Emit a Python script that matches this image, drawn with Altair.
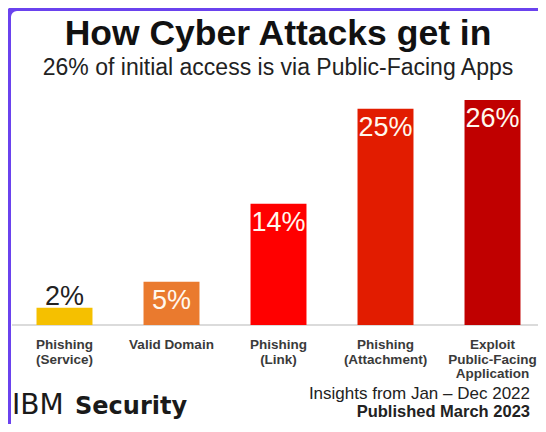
import altair as alt
import pandas as pd

# ---- data ----
categories = ["Phishing (Service)", "Valid Domain", "Phishing (Link)",
              "Phishing (Attachment)", "Exploit Public-Facing Application"]
label_lines = ["Phishing\n(Service)", "Valid Domain", "Phishing\n(Link)",
               "Phishing\n(Attachment)", "Exploit\nPublic-Facing\nApplication"]
values = [2, 5, 14, 25, 26]
bar_colors = ["#f5c000", "#ea7a2e", "#ff0000", "#e21c00", "#c00000"]

title = "How Cyber Attacks get in"
subtitle = "26% of initial access is via Public-Facing Apps"
foot_1 = "Insights from Jan \u2013 Dec 2022"
foot_2 = "Published March 2023"
brand_1 = "IBM"
brand_2 = "Security"

df = pd.DataFrame({
    "category": categories,
    "label": label_lines,
    "value": values,
    "pct": [f"{v}%" for v in values],
})

W, H = 530, 416
FONT = "Liberation Sans"

xs = alt.Scale(domain=categories, range=[3, 538], paddingInner=0.477, paddingOuter=0.2385)
ys = alt.Scale(domain=[0, 26], range=[317, 92], nice=False, zero=True)
cs = alt.Scale(domain=categories, range=bar_colors)

base = alt.Chart(df)

border = alt.Chart(pd.DataFrame({"a": [0]})).mark_rect(
    fill="transparent", stroke="#6a42ee", strokeWidth=6, cornerRadius=9
).encode(x=alt.value(0), x2=alt.value(700), y=alt.value(0), y2=alt.value(800))

baseline = alt.Chart(pd.DataFrame({"a": [0]})).mark_rule(
    color="#cfcfcf", strokeWidth=1.5
).encode(x=alt.value(4), x2=alt.value(538), y=alt.value(317))

bars = base.mark_bar().encode(
    x=alt.X("category:N", sort=categories, scale=xs, axis=None),
    y=alt.Y("value:Q", scale=ys, axis=None),
    color=alt.Color("category:N", scale=cs, legend=None),
)

lab_out = base.transform_filter("datum.value < 3").mark_text(
    font=FONT, fontSize=27, color="#222222", baseline="alphabetic", dy=-3
).encode(
    x=alt.X("category:N", sort=categories, scale=xs, axis=None),
    y=alt.Y("value:Q", scale=ys, axis=None),
    text="pct:N",
)

lab_in = base.transform_filter("datum.value >= 3").mark_text(
    font=FONT, fontSize=27, color="#fff8ee", baseline="alphabetic", dy=27
).encode(
    x=alt.X("category:N", sort=categories, scale=xs, axis=None),
    y=alt.Y("value:Q", scale=ys, axis=None),
    text="pct:N",
)

cat_labels = base.mark_text(
    font=FONT, fontSize=13.5, fontWeight="bold", color="#3a3a3a",
    baseline="alphabetic", lineBreak="\n", lineHeight=14.5
).encode(
    x=alt.X("category:N", sort=categories, scale=xs, axis=None),
    y=alt.value(341),
    text="label:N",
)

def txt(s, x, y, size, weight="normal", align="center", font=FONT, color="#111111"):
    return alt.Chart(pd.DataFrame({"t": [s]})).mark_text(
        font=font, fontSize=size, fontWeight=weight, align=align,
        baseline="alphabetic", color=color
    ).encode(x=alt.value(x), y=alt.value(y), text="t:N")

t_title = txt(title, 270, 37, 35.5, "bold")
t_sub = txt(subtitle, 270, 67, 23, color="#222222")
t_f1 = txt(foot_1, 522, 391, 17, color="#222222", align="right")
t_f2 = txt(foot_2, 522, 409, 16.5, "bold", color="#222222", align="right")
t_b1 = txt(brand_1, 4, 406, 28, align="left", font="DejaVu Sans", color="#1a1a1a")
t_b2 = txt(brand_2, 67, 406, 24, "bold", align="left", font="DejaVu Sans", color="#1a1a1a")

chart = alt.layer(
    border, baseline, bars, lab_out, lab_in, cat_labels,
    t_title, t_sub, t_f1, t_f2, t_b1, t_b2
).properties(
    width=W, height=H, padding=0,
    autosize=alt.AutoSizeParams(type="none"),
    background="white",
).configure_view(stroke=None)

chart.save("out.html", embed_options={"renderer": "svg", "actions": False})
